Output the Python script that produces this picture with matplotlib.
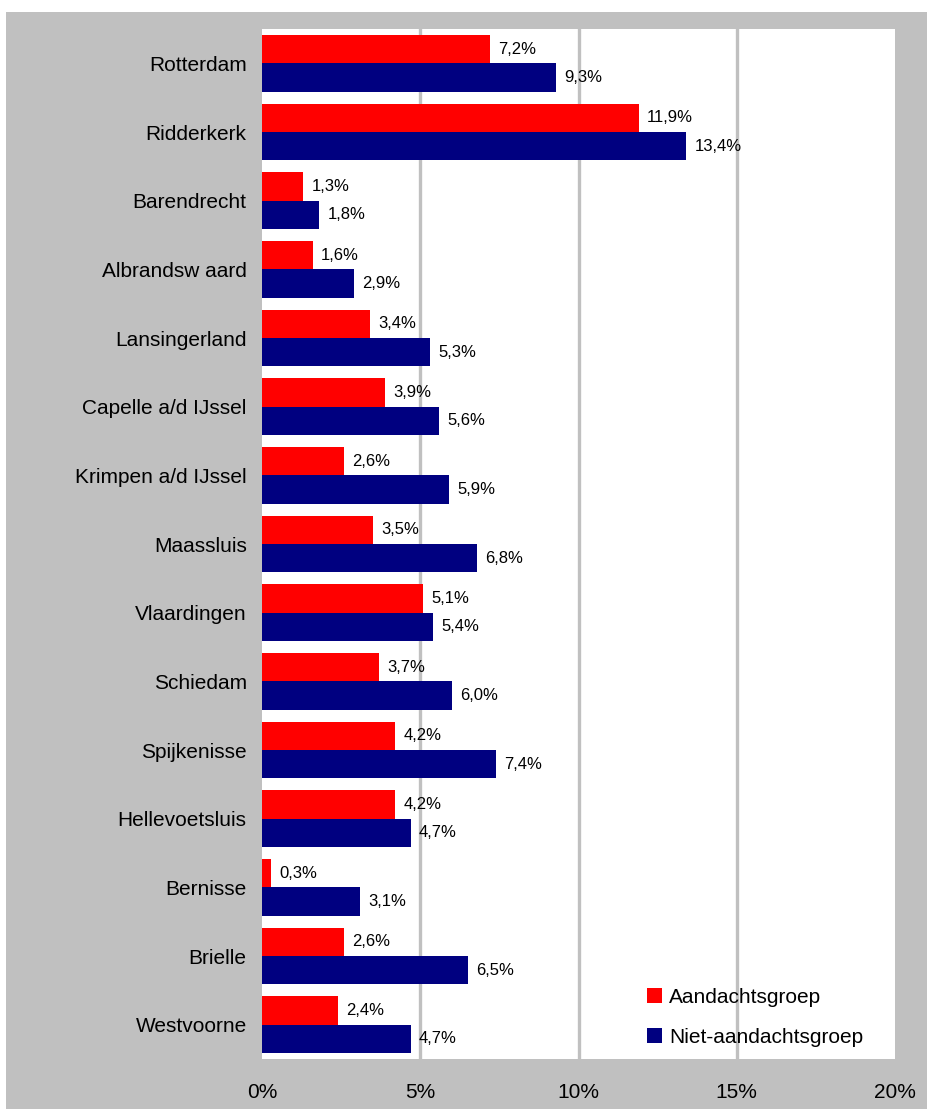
import matplotlib.pyplot as plt
from matplotlib.patches import Rectangle
import numpy as np

plt.rcParams['font.family'] = ['Liberation Sans', 'DejaVu Sans']

# Data
gemeenten = ['Rotterdam', 'Ridderkerk', 'Barendrecht', 'Albrandsw aard', 'Lansingerland',
             'Capelle a/d IJssel', 'Krimpen a/d IJssel', 'Maassluis', 'Vlaardingen',
             'Schiedam', 'Spijkenisse', 'Hellevoetsluis', 'Bernisse', 'Brielle', 'Westvoorne']
aandacht = [7.2, 11.9, 1.3, 1.6, 3.4, 3.9, 2.6, 3.5, 5.1, 3.7, 4.2, 4.2, 0.3, 2.6, 2.4]
niet_aandacht = [9.3, 13.4, 1.8, 2.9, 5.3, 5.6, 5.9, 6.8, 5.4, 6.0, 7.4, 4.7, 3.1, 6.5, 4.7]
xticks = [0, 5, 10, 15, 20]

W, H = 928, 1109
fig = plt.figure(figsize=(W / 100, H / 100), dpi=100, facecolor='white')

# gray chart background (behind the axes)
fig.patches.append(Rectangle((6 / W, 0), 1 - 6 / W, 1 - 12 / H, transform=fig.transFigure,
                             facecolor='#c0c0c0', edgecolor='none', zorder=-10))

ax = fig.add_axes([262 / W, (H - 1059) / H, 633 / W, 1030 / H])
ax.set_facecolor('white')

y = np.arange(len(gemeenten))
h = 0.415
bars1 = ax.barh(y - h / 2, aandacht, height=h, color='#ff0000', label='Aandachtsgroep', zorder=3)
bars2 = ax.barh(y + h / 2, niet_aandacht, height=h, color='#000080', label='Niet-aandachtsgroep', zorder=3)

for bars, vals in [(bars1, aandacht), (bars2, niet_aandacht)]:
    for b, v in zip(bars, vals):
        ax.annotate(f'{v:.1f}%'.replace('.', ','), (b.get_width(), b.get_y() + b.get_height() / 2),
                    xytext=(6, 0), textcoords='offset points', va='center', ha='left',
                    fontsize=12, color='black', zorder=4)

ax.set_xlim(0, 20)
ax.set_ylim(len(gemeenten) - 0.5, -0.5)
ax.set_xticks(xticks)
ax.set_xticklabels([f'{t}%' for t in xticks], fontsize=15)
ax.set_yticks(y)
ax.set_yticklabels(gemeenten, fontsize=15)
ax.tick_params(axis='x', length=0, pad=17)
ax.tick_params(axis='y', length=0, pad=11)
for s in ax.spines.values():
    s.set_visible(False)

for t in xticks[1:-1]:
    ax.axvline(t, color='#c0c0c0', linewidth=2.4, zorder=1)

ax.legend(loc='upper left', bbox_to_anchor=((647 - 262) / 633, 0.069), frameon=False,
          fontsize=15, handlelength=0.7, handleheight=0.7, handletextpad=0.35,
          labelspacing=1.0, borderpad=0, borderaxespad=0)

fig.savefig('out.png', dpi=100, facecolor=fig.get_facecolor())
